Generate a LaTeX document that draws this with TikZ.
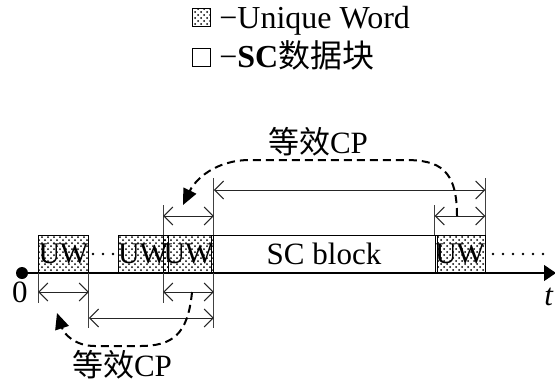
\documentclass[tikz,border=0pt]{standalone}
\usepackage{fontspec}
\setmainfont{Liberation Serif}
\newfontfamily\cjk{Noto Sans CJK SC}
\usetikzlibrary{arrows.meta,patterns}

\begin{document}
\begin{tikzpicture}[x=0.5pt,y=-0.5pt,
  font=\fontsize{15.5}{18}\selectfont,
  uwblk/.style={draw,pattern=crosshatch dots,minimum height=19pt,inner sep=0pt,
    font=\fontsize{15}{16}\selectfont},
  keybox/.style={draw,minimum width=9pt,minimum height=9pt,inner sep=0pt},
  keytext/.style={anchor=base west,inner sep=0pt,font=\fontsize{16}{18}\selectfont},
  edge/.style={draw=black!75,line width=0.5pt},
  dimline/.style={black!85,line width=0.5pt,
    {Straight Barb[length=4.5pt,width=9pt]}-{Straight Barb[length=4.5pt,width=9pt]}},
  cparrow/.style={line width=1pt,dash pattern=on 4pt off 2.5pt,
    -{Triangle[length=8pt,width=7pt]}},
  smalldot/.style={circle,fill,inner sep=0pt,minimum size=1.3pt}]
\useasboundingbox (0,0) rectangle (555,387);
% legend
\node[keybox,pattern=crosshatch dots] (keyuw) at (201,17) {};
\node[keytext] (keyuwtxt) at (219,28) {−Unique Word};
\node[keybox] (keysc) at (201,57) {};
\node[keytext] (keysctxt) at (219,67) {−\textbf{SC}{\cjk 数据块}};
% frame blocks
\node[uwblk,minimum width=23.5pt] (uwa) at (63.5,254) {UW};
\node[uwblk,minimum width=23pt] (uwb) at (143,254) {UW};
\node[uwblk,minimum width=22.5pt] (uwc) at (188.5,254) {UW};
\node[draw,minimum width=113pt,minimum height=19pt,inner sep=0pt] (scblk) at (324,254) {SC block};
\node[uwblk,minimum width=23pt] (uwd) at (460,254) {UW};
\foreach \x [count=\i] in {93,103,113}
  \node[smalldot] (dta\i) at (\x,254) {};
\foreach \x [count=\i] in {493,503,...,543}
  \node[smalldot] (dtb\i) at (\x,254) {};
% time axis
\node[circle,fill,inner sep=0pt,minimum size=6pt] (orig) at (22,273) {};
\coordinate (tend) at (556,273);
\draw[line width=0.6pt,-{Triangle[length=6pt,width=8pt]}] (orig) -- (tend);
\node (zero) at (20,292) {0};
\node (tlab) at (549,297) {\textit{t}};
% edges and spans
\draw[edge] (uwa.south west) -- ++(0,30);
\draw[edge] (uwa.south east) -- ++(0,55);
\draw[edge] (uwc.north west) -- ++(0,-30);
\draw[edge] (uwc.south west) -- ++(0,30);
\draw[edge] (uwc.north east) -- ++(0,-57);
\draw[edge] (uwc.south east) -- ++(0,55);
\draw[edge] (uwd.north west) -- ++(0,-30);
\draw[edge] (uwd.north east) -- ++(0,-57);
\coordinate (lvtop) at (0,190);
\coordinate (lvmid) at (0,216);
\coordinate (lvlow) at (0,292);
\coordinate (lvbot) at (0,318);
\draw[dimline] (uwc.north west |- lvmid) -- (uwc.north east |- lvmid);
\draw[dimline] (uwd.north west |- lvmid) -- (uwd.north east |- lvmid);
\draw[dimline] (uwc.north east |- lvtop) -- (uwd.north east |- lvtop);
\draw[dimline] (uwa.south west |- lvlow) -- (uwa.south east |- lvlow);
\draw[dimline] (uwc.south west |- lvlow) -- (uwc.south east |- lvlow);
\draw[dimline] (uwa.south east |- lvbot) -- (uwc.south east |- lvbot);
% equivalent CP
\coordinate (cpsrca) at (457,216);
\coordinate (cpdsta) at (183,205);
\draw[cparrow] (cpsrca) .. controls (457,170) and (440,160) .. (405,160)
  -- (250,160) .. controls (215,160) and (195,180) .. (cpdsta);
\node (cptop) at (318,142) {{\cjk 等效}CP};
\coordinate (cpsrcb) at (192,292);
\coordinate (cpdstb) at (57,313);
\draw[cparrow] (cpsrcb) .. controls (188,335) and (172,346) .. (140,346)
  -- (95,346) .. controls (75,346) and (64,334) .. (cpdstb);
\node (cpbot) at (122,365) {{\cjk 等效}CP};
\end{tikzpicture}
\end{document}
